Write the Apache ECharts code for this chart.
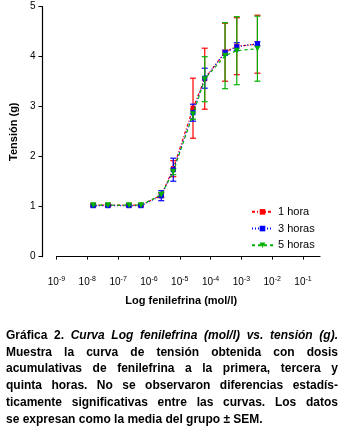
<!DOCTYPE html>
<html><head><meta charset="utf-8">
<script src="https://cdn.jsdelivr.net/npm/echarts@6/dist/echarts.min.js"></script>
<style>
html,body{margin:0;padding:0;background:#fff;}
#chart{position:absolute;left:0;top:0;width:344px;height:428px;}
#cap{position:absolute;left:6px;top:327px;width:332px;font-family:"Liberation Sans",Arial,sans-serif;font-weight:bold;font-size:12px;line-height:16.7px;color:#000;}
#cap div{text-align:justify;text-align-last:justify;white-space:nowrap;}
#cap div.last{text-align-last:left;}
</style></head>
<body>
<div id="chart"></div>
<div id="cap">
<div>Gráfica 2. <i>Curva Log fenilefrina (mol/l) vs. tensión (g).</i></div>
<div>Muestra la curva de tensión obtenida con dosis</div>
<div>acumulativas de fenilefrina a la primera, tercera y</div>
<div>quinta horas. No se observaron diferencias estadís-</div>
<div>ticamente significativas entre las curvas. Los datos</div>
<div class="last">se expresan como la media del grupo ± SEM.</div>
</div>
<script>
// log10 of phenylephrine concentration (mol/l)
var logDose = [-7.81, -7.33, -6.65, -6.26, -5.60, -5.21, -4.57, -4.19, -3.53, -3.15, -2.48];
var tickExps = [-9, -8, -7, -6, -5, -4, -3, -2, -1];
var seriesNames = ['1 hora', '3 horas', '5 horas'];
var mean1h = [1.03, 1.03, 1.03, 1.03, 1.23, 1.76, 2.97, 3.56, 4.09, 4.21, 4.25];
var sem1h  = [0.02, 0.02, 0.02, 0.02, 0.05, 0.16, 0.60, 0.61, 0.58, 0.57, 0.58];
var mean3h = [1.02, 1.02, 1.02, 1.02, 1.22, 1.74, 2.88, 3.57, 4.08, 4.20, 4.26];
var sem3h  = [0.02, 0.02, 0.02, 0.02, 0.10, 0.23, 0.17, 0.20, 0.05, 0.08, 0.04];
var mean5h = [1.03, 1.03, 1.03, 1.03, 1.24, 1.70, 2.85, 3.55, 4.02, 4.12, 4.16];
var sem5h  = [0.02, 0.02, 0.02, 0.02, 0.04, 0.06, 0.10, 0.45, 0.66, 0.68, 0.65];

var colors = ['#ff0000', '#0000ff', '#00b000'];
var means = [mean1h, mean3h, mean5h];
var sems = [sem1h, sem3h, sem5h];
var symbols = ['rect', 'rect', 'triangle'];
var rotates = [0, 0, 180];
var dashes = [[3, 2, 1, 2], [1, 2], [3, 3]];

function errItem(color) {
  return function (params, api) {
    var x = api.value(0), lo = api.value(1), hi = api.value(2);
    var pLo = api.coord([x, lo]), pHi = api.coord([x, hi]);
    var st = {stroke: color, lineWidth: 1.2};
    var w = 3;
    return {type: 'group', children: [
      {type: 'line', shape: {x1: pLo[0], y1: pLo[1], x2: pHi[0], y2: pHi[1]}, style: st},
      {type: 'line', shape: {x1: pLo[0] - w, y1: pLo[1], x2: pLo[0] + w, y2: pLo[1]}, style: st},
      {type: 'line', shape: {x1: pHi[0] - w, y1: pHi[1], x2: pHi[0] + w, y2: pHi[1]}, style: st}
    ]};
  };
}

var series = [];
for (var s = 0; s < 3; s++) {
  var errData = logDose.map(function (x, i) { return [x, means[s][i] - sems[s][i], means[s][i] + sems[s][i]]; });
  series.push({
    type: 'custom', name: seriesNames[s] + ' err', renderItem: errItem(colors[s]),
    data: errData, z: 2 + s, silent: true, legendHoverLink: false
  });
}
for (var s2 = 0; s2 < 3; s2++) {
  series.push({
    type: 'line', name: seriesNames[s2],
    data: logDose.map(function (x, i) { return [x, means[s2][i]]; }),
    symbol: symbols[s2], symbolSize: symbols[s2] === 'triangle' ? 6 : 5, symbolRotate: rotates[s2],
    showAllSymbol: true,
    itemStyle: {color: colors[s2]},
    lineStyle: {color: colors[s2], width: 1.2, type: dashes[s2]},
    z: 10 + s2, animation: false
  });
}

var chart = echarts.init(document.getElementById('chart'), null, {renderer: 'canvas'});
chart.setOption({
  backgroundColor: '#fff',
  animation: false,
  textStyle: {fontFamily: 'Liberation Sans, Arial, sans-serif'},
  grid: {left: 52, right: 24, top: 6.7, bottom: 171.3},
  legend: {
    data: seriesNames, orient: 'vertical', left: 251, top: 205, padding: 0,
    itemWidth: 21, itemHeight: 7, itemGap: 3,
    textStyle: {fontSize: 11, color: '#000', lineHeight: 13.7, fontFamily: 'Liberation Sans, Arial, sans-serif'}
  },
  xAxis: {
    type: 'value', min: -9, max: -0.45, interval: 1, offset: 13,
    axisLine: {show: true, lineStyle: {color: '#000', width: 1.2}},
    axisTick: {show: true, length: 3, customValues: tickExps, lineStyle: {color: '#000'}},
    splitLine: {show: false},
    axisLabel: {
      customValues: tickExps, margin: 6, color: '#000', fontSize: 10,
      formatter: function (v) { return '10{sup|-' + Math.abs(Math.round(v)) + '}'; },
      rich: {sup: {fontSize: 7, color: '#000', padding: [0, 0, 6, 0]}}
    },
    name: 'Log fenilefrina (mol/l)', nameLocation: 'middle', nameGap: 26,
    nameTextStyle: {fontSize: 11, fontWeight: 'bold', color: '#000', padding: [0, 14, 0, 0]}
  },
  yAxis: {
    type: 'value', min: 0, max: 5, interval: 1, offset: 14,
    axisLine: {show: true, lineStyle: {color: '#000', width: 1.2}},
    axisTick: {show: true, length: 4, lineStyle: {color: '#000'}},
    splitLine: {show: false},
    axisLabel: {color: '#000', fontSize: 10, margin: 7},
    name: 'Tensión (g)', nameLocation: 'middle', nameGap: 20,
    nameTextStyle: {fontSize: 11, fontWeight: 'bold', color: '#000'}
  },
  series: series
});
</script>
</body></html>
